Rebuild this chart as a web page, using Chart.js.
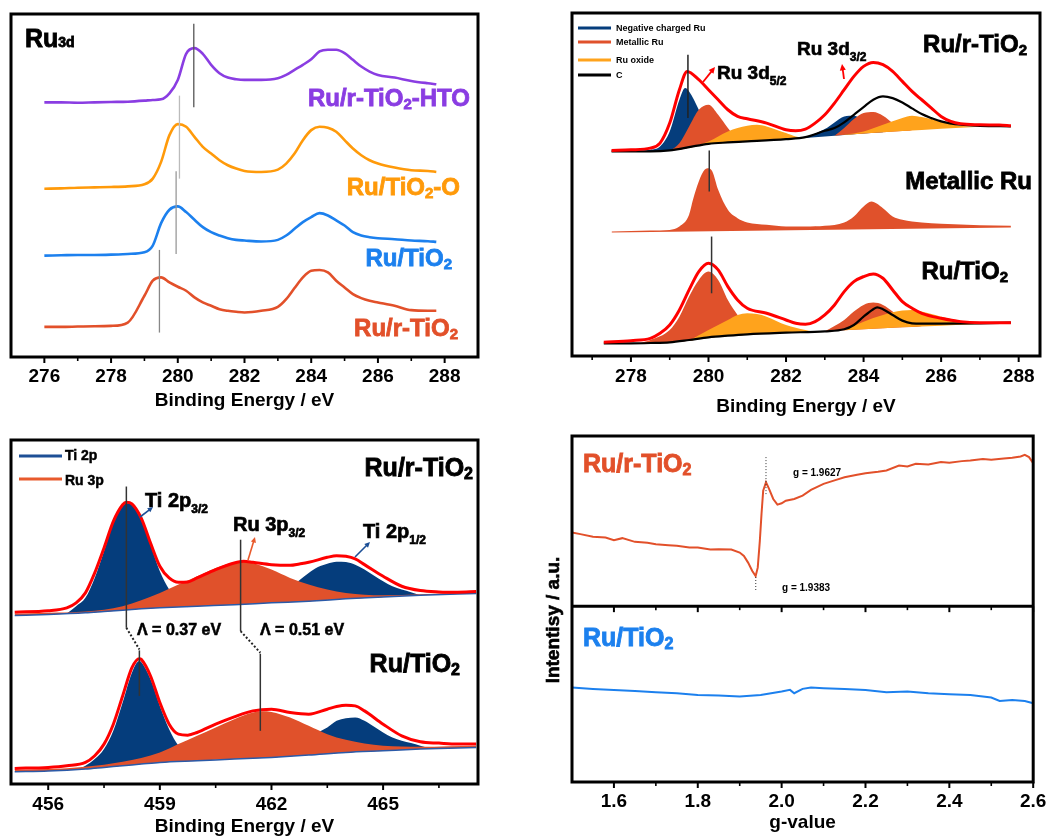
<!DOCTYPE html>
<html>
<head>
<meta charset="utf-8">
<title>Ru 3d / Ti 2p XPS and EPR</title>
<script src="https://cdn.jsdelivr.net/npm/chart.js@4.4.1/dist/chart.umd.min.js"></script>
<style>
  html, body { margin: 0; padding: 0; background: #fff; }
  #wrap { position: relative; width: 1055px; height: 839px; }
  #wrap canvas { position: absolute; left: 0; top: 0; }
</style>
</head>
<body>
<div id="wrap">
  <canvas id="ru3d" width="1055" height="839"></canvas>
  <canvas id="fit3d" width="1055" height="839"></canvas>
  <canvas id="ti2p" width="1055" height="839"></canvas>
  <canvas id="epr" width="1055" height="839"></canvas>
</div>
<script>
const FONT = '"Liberation Sans", Arial, Helvetica, sans-serif';
const PURPLE = '#8a3de2', ORANGE = '#ff9a0a', BLUE = '#1c80ee', RED = '#e2502a';
const NAVY = '#053d7c', METAL = '#e0512b', OXIDE = '#ffa31c', FIT = '#ff0000';

// ---- (a) Ru 3d survey, intensity in a.u. (stacked) ----
const ru3dEnergy = [276, 276.5, 277, 277.5, 278, 278.5, 279, 279.25, 279.5, 279.75, 280, 280.25, 280.5, 280.75, 281, 281.25, 281.5, 281.75, 282, 282.5, 283, 283.25, 283.5, 283.75, 284, 284.25, 284.5, 284.75, 285, 285.25, 285.5, 285.75, 286, 286.5, 287, 287.5, 287.75];
const ruRTiO2HTO = [761, 761, 760, 761, 762, 763, 766, 768, 770, 788, 828, 906, 923, 906, 873, 848, 835, 830, 828, 828, 833, 843, 858, 873, 890, 913, 918, 918, 908, 888, 868, 853, 843, 835, 825, 818, 815];
const ruTiO2O = [503, 504, 506, 507, 508, 510, 516, 533, 583, 663, 696, 688, 658, 628, 608, 588, 573, 563, 556, 553, 560, 578, 608, 648, 678, 688, 685, 673, 648, 623, 603, 588, 578, 566, 558, 556, 553];
const ruTiO2 = [303, 304, 305, 305, 306, 308, 313, 333, 400, 440, 450, 433, 410, 388, 373, 363, 355, 350, 348, 345, 350, 363, 383, 403, 418, 430, 423, 408, 393, 373, 363, 358, 355, 352, 348, 346, 344];
const ruRTiO2 = [90, 90, 91, 92, 93, 103, 183, 228, 238, 223, 210, 198, 178, 163, 153, 143, 138, 135, 133, 138, 150, 173, 206, 238, 258, 260, 253, 228, 208, 188, 176, 168, 163, 153, 140, 138, 138];
const ru3dTicks = [276, 278, 280, 282, 284, 286, 288];
const ru3dMinor = [277, 279, 281, 283, 285, 287];

// ---- (b) Ru 3d peak fitting ----
// Ru/r-TiO2
const bgTopE = [277.5, 278, 278.5, 279, 279.25, 279.5, 279.75, 280, 280.5, 281, 282, 283, 284, 285, 286, 287, 287.8];
const bgTopI = [613, 613, 613, 615, 618, 624, 630, 635, 639, 642, 649, 658, 667, 674, 681, 687, 689];
const negTopAE = [278.25, 278.5, 278.75, 279, 279.25, 279.4, 279.5, 279.75, 280, 280.25, 280.5];
const negTopAI = [613, 618, 628, 673, 768, 803, 793, 738, 668, 638, 639];
const negTopBE = [282.5, 283, 283.25, 283.5, 283.75, 284, 284.25, 284.5];
const negTopBI = [654, 680, 700, 718, 720, 703, 678, 671];
const metTopAE = [279, 279.25, 279.5, 279.75, 280, 280.25, 280.5, 280.75, 281];
const metTopAI = [615, 638, 688, 738, 753, 723, 683, 648, 642];
const metTopBE = [283.25, 283.5, 283.75, 284, 284.25, 284.5, 284.75, 285, 285.25];
const metTopBI = [660, 683, 710, 728, 731, 720, 698, 680, 676];
const oxTopAE = [279.5, 280, 280.5, 281, 281.25, 281.5, 282, 282.25, 282.5];
const oxTopAI = [624, 643, 673, 690, 693, 688, 668, 658, 654];
const oxTopBE = [283.5, 284, 284.5, 285, 285.25, 285.5, 286, 286.5, 287];
const oxTopBI = [663, 673, 693, 713, 720, 716, 703, 690, 687];
const cTopE = [277.5, 278, 278.5, 279, 279.5, 280, 280.5, 281, 282, 282.5, 283, 283.25, 283.5, 283.75, 284, 284.25, 284.5, 284.75, 285, 285.25, 285.5, 285.75, 286, 286.5, 287, 287.8];
const cTopI = [613, 613, 613, 616, 626, 636, 640, 643, 650, 656, 675, 683, 700, 723, 746, 768, 778, 773, 760, 742, 725, 713, 703, 693, 690, 688];
const envTopE = [277.5, 278, 278.5, 278.75, 279, 279.25, 279.45, 279.75, 280, 280.25, 280.5, 280.75, 281, 281.5, 282, 282.25, 282.5, 282.75, 283, 283.25, 283.5, 283.75, 284, 284.25, 284.5, 284.75, 285, 285.25, 285.5, 285.75, 286, 286.25, 286.5, 287, 287.5, 287.8];
const envTopI = [616, 618, 623, 638, 698, 798, 853, 828, 798, 768, 738, 718, 711, 698, 678, 675, 680, 698, 723, 758, 798, 838, 868, 880, 873, 853, 823, 793, 768, 743, 718, 703, 696, 693, 692, 690];
// Metallic Ru reference
const metRefBaseE = [277.5, 287.8];
const metRefBaseI = [370, 385];
const metRefE = [277.5, 278.5, 279, 279.25, 279.5, 279.6, 279.75, 279.9, 280, 280.1, 280.25, 280.5, 280.75, 281, 281.5, 282, 282.5, 283, 283.5, 283.75, 284, 284.2, 284.5, 284.75, 285, 285.5, 286, 287, 287.8];
const metRefI = [373, 376, 378, 388, 423, 468, 523, 558, 563, 553, 498, 438, 413, 400, 393, 388, 388, 390, 400, 418, 448, 463, 443, 418, 408, 400, 396, 392, 390];
// Ru/TiO2
const bgBotE = [277.3, 278, 279, 279.5, 280, 280.5, 281, 282, 283, 284, 285, 286, 287, 287.8];
const bgBotI = [38, 38, 41, 46, 55, 60, 64, 70, 74, 80, 86, 91, 96, 99];
const metBotAE = [278.25, 278.5, 279, 279.25, 279.5, 279.75, 280, 280.25, 280.5, 280.75, 281, 281.25];
const metBotAI = [39, 48, 78, 118, 178, 228, 253, 228, 168, 123, 83, 66];
const metBotBE = [283, 283.5, 283.75, 284, 284.25, 284.5, 284.75, 285, 285.25, 285.5];
const metBotBI = [74, 108, 133, 153, 160, 153, 133, 108, 93, 88];
const oxBotAE = [279.5, 280, 280.5, 280.75, 281, 281.25, 281.5, 282, 282.5, 282.75];
const oxBotAI = [46, 78, 108, 123, 128, 126, 118, 93, 78, 73];
const oxBotBE = [283.5, 284, 284.5, 285, 285.25, 285.5, 286, 286.5, 287, 287.5];
const oxBotBI = [78, 103, 123, 136, 138, 133, 118, 106, 100, 98];
const cBotE = [277.3, 278, 278.5, 279, 279.5, 280, 280.5, 281, 282, 283, 283.5, 283.75, 284, 284.25, 284.35, 284.5, 284.75, 285, 285.25, 285.5, 286, 287, 287.8];
const cBotI = [38, 38, 39, 41, 48, 56, 61, 65, 70, 74, 80, 93, 118, 140, 146, 140, 123, 106, 98, 97, 97, 98, 100];
const envBotE = [277.3, 278, 278.5, 278.75, 279, 279.25, 279.5, 279.75, 280, 280.25, 280.5, 280.75, 281, 281.5, 282, 282.25, 282.5, 282.75, 283, 283.25, 283.5, 283.75, 284, 284.25, 284.5, 284.75, 285, 285.25, 285.5, 286, 286.5, 287, 287.8];
const envBotI = [41, 46, 53, 68, 93, 138, 198, 253, 278, 258, 208, 168, 143, 128, 108, 98, 95, 103, 123, 153, 193, 223, 238, 246, 233, 198, 163, 143, 128, 113, 103, 100, 100];
const fitTicks = [278, 280, 282, 284, 286, 288];
const fitMinor = [277, 279, 281, 283, 285, 287];

// ---- (c) Ti 2p / Ru 3p ----
const tiBgE = [455.1, 456, 457, 457.5, 458, 458.5, 459, 460, 461, 462, 463, 464, 465, 466, 467.5];
const tiBgTopI = [507, 510, 515, 519, 523, 527, 530, 535, 539, 545, 550, 557, 563, 568, 573];
const ti32TopE = [456.5, 456.75, 457, 457.25, 457.5, 457.75, 458, 458.15, 458.25, 458.5, 458.75, 459, 459.25, 459.5, 459.75];
const ti32TopI = [513, 535, 560, 620, 700, 785, 837, 845, 840, 795, 720, 640, 585, 550, 532];
const ru3pTopE = [455.1, 456, 457, 458, 459, 459.5, 460, 460.5, 461, 461.25, 461.5, 462, 462.5, 463, 463.5, 464, 465, 466, 467.5];
const ru3pTopI = [512, 515, 519, 535, 575, 600, 625, 650, 667, 670, 665, 645, 620, 600, 585, 575, 568, 571, 578];
const ti12TopE = [461.5, 462, 462.25, 462.5, 462.75, 463, 463.25, 463.5, 463.75, 464, 464.25, 464.5, 464.75, 465, 465.25, 465.5, 465.75, 466];
const ti12TopI = [542, 555, 570, 590, 613, 635, 653, 663, 669, 668, 660, 645, 627, 610, 595, 585, 577, 568];
const tiEnvTopE = [455.1, 456, 456.5, 456.75, 457, 457.25, 457.5, 457.75, 458, 458.1, 458.25, 458.5, 458.75, 459, 459.25, 459.5, 459.75, 460, 460.5, 461, 461.25, 461.5, 462, 462.5, 462.75, 463, 463.5, 463.75, 464, 464.25, 464.5, 465, 465.5, 466, 466.5, 467, 467.5];
const tiEnvTopI = [517, 521, 530, 545, 575, 635, 710, 790, 840, 848, 843, 800, 725, 655, 620, 607, 608, 620, 645, 665, 670, 667, 660, 658, 662, 667, 682, 687, 685, 677, 660, 625, 595, 582, 578, 577, 579];
const tiBgBotI = [37, 39, 45, 50, 55, 60, 65, 70, 75, 80, 87, 95, 100, 105, 110];
const ti32BotE = [456.75, 457, 457.25, 457.5, 457.75, 458, 458.25, 458.45, 458.5, 458.75, 459, 459.25, 459.5, 459.75, 460];
const ti32BotI = [43, 55, 75, 105, 160, 245, 335, 370, 367, 315, 235, 165, 115, 85, 70];
const ru3pBotE = [455.1, 456, 457, 458, 459, 459.5, 460, 460.5, 461, 461.5, 461.75, 462, 462.5, 463, 463.5, 464, 465, 466, 467.5];
const ru3pBotI = [43, 45, 52, 67, 95, 120, 145, 170, 195, 215, 219, 217, 200, 175, 150, 133, 115, 112, 115];
const ti12BotE = [461.5, 462, 462.5, 463, 463.25, 463.5, 463.75, 464, 464.25, 464.5, 464.75, 465, 465.25, 465.5, 465.75, 466, 466.25];
const ti12BotI = [78, 95, 110, 135, 155, 170, 190, 198, 200, 190, 173, 155, 140, 130, 123, 115, 107];
const tiEnvBotE = [455.1, 456, 456.5, 457, 457.25, 457.5, 457.75, 458, 458.25, 458.45, 458.5, 458.75, 459, 459.25, 459.5, 459.75, 460, 460.5, 461, 461.5, 462, 462.5, 463, 463.5, 463.75, 464, 464.25, 464.5, 465, 465.5, 466, 466.5, 467, 467.5];
const tiEnvBotI = [47, 50, 55, 65, 85, 120, 180, 265, 350, 377, 375, 325, 245, 180, 150, 147, 155, 180, 202, 220, 225, 215, 210, 225, 233, 237, 235, 220, 180, 145, 127, 123, 120, 120];
const tiTicks = [456, 459, 462, 465];
const tiMinor = [457.5, 460.5, 463.5, 466.5];

// ---- (d) EPR ----
const eprRG = [1.5, 1.52, 1.55, 1.58, 1.6, 1.62, 1.65, 1.68, 1.7, 1.73, 1.75, 1.78, 1.8, 1.83, 1.85, 1.88, 1.9, 1.91, 1.92, 1.93, 1.938, 1.943, 1.948, 1.952, 1.956, 1.9627, 1.97, 1.98, 1.99, 2.0, 2.01, 2.03, 2.05, 2.07, 2.1, 2.13, 2.15, 2.18, 2.2, 2.23, 2.25, 2.28, 2.3, 2.32, 2.35, 2.38, 2.4, 2.43, 2.45, 2.48, 2.5, 2.53, 2.55, 2.57, 2.58, 2.59, 2.6];
const eprRI = [745, 740, 732, 730, 722, 728, 717, 714, 710, 707, 705, 700, 700, 694, 695, 694, 685, 675, 655, 630, 615, 640, 720, 800, 870, 895, 875, 845, 828, 832, 840, 845, 855, 872, 890, 902, 910, 917, 922, 926, 930, 945, 942, 950, 948, 955, 953, 958, 960, 964, 962, 966, 968, 972, 977, 970, 952];
const eprTG = [1.5, 1.55, 1.6, 1.65, 1.7, 1.75, 1.8, 1.85, 1.9, 1.95, 2.0, 2.02, 2.03, 2.05, 2.07, 2.1, 2.15, 2.2, 2.25, 2.3, 2.35, 2.4, 2.45, 2.5, 2.52, 2.55, 2.58, 2.6];
const eprTI = [282, 278, 275, 272, 268, 265, 260, 258, 255, 260, 270, 275, 265, 278, 282, 280, 278, 275, 268, 270, 265, 262, 260, 252, 242, 245, 242, 235];
const eprTicks = [1.6, 1.8, 2.0, 2.2, 2.4, 2.6];
const eprMinor = [1.7, 1.9, 2.1, 2.3, 2.5];

// ---------- helpers ----------
const pts = (xs, ys) => xs.map((x, i) => ({ x, y: ys[i] }));

function lineSet(xs, ys, color, width, order, smooth = true) {
  return { data: pts(xs, ys), borderColor: color, borderWidth: width, pointRadius: 0,
    fill: false, order, tension: smooth ? 0.4 : 0,
    cubicInterpolationMode: smooth ? 'monotone' : 'default' };
}
function areaSet(xs, ys, color, target, order) {
  return { data: pts(xs, ys), borderColor: 'rgba(0,0,0,0)', backgroundColor: color, borderWidth: 0,
    pointRadius: 0, fill: { target }, order, cubicInterpolationMode: 'monotone' };
}

function xAxis(min, max, majors, title, height, pad, fmt) {
  const font = { family: FONT, size: 19, weight: 'bold' };
  return {
    type: 'linear', min, max,
    afterBuildTicks: s => { s.ticks = majors.map(value => ({ value })); },
    afterFit: s => { s.height = height; },
    ticks: { color: '#000', padding: pad, maxRotation: 0, autoSkip: false, font,
      callback: fmt || (v => String(v)) },
    grid: { display: false, drawTicks: false },
    border: { display: false },
    title: { display: true, text: title, color: '#000', padding: 0, font }
  };
}

// bold text with "_{...}" subscripts, cy = vertical centre of capitals
function rich(ctx, text, x, cy, size, color, align = 'left', sub = {}) {
  const scale = sub.scale || 0.62, drop = sub.drop == null ? 0.12 : sub.drop;
  const segs = text.split(/(_\{[^}]*\})/).filter(Boolean).map(p =>
    p.startsWith('_{') ? { t: p.slice(2, -1), s: true } : { t: p, s: false });
  ctx.save();
  ctx.fillStyle = color; ctx.strokeStyle = color; ctx.lineWidth = size / 30;
  ctx.textAlign = 'left'; ctx.textBaseline = 'alphabetic';
  let w = 0;
  segs.forEach(s => {
    s.size = s.s ? Math.round(size * scale) : size;
    ctx.font = `bold ${s.size}px ${FONT}`;
    s.w = ctx.measureText(s.t).width; w += s.w;
  });
  let xx = align === 'right' ? x - w : align === 'center' ? x - w / 2 : x;
  const base = cy + size * 0.36;
  segs.forEach(s => {
    ctx.font = `bold ${s.size}px ${FONT}`;
    const yy = base + (s.s ? size * drop : 0);
    ctx.fillText(s.t, xx, yy);
    if (size >= 14) ctx.strokeText(s.t, xx, yy);
    xx += s.w;
  });
  ctx.restore();
}

function arrow(ctx, x1, y1, x2, y2, color, w = 1.6, head = 7) {
  const a = Math.atan2(y2 - y1, x2 - x1);
  ctx.save();
  ctx.strokeStyle = color; ctx.fillStyle = color; ctx.lineWidth = w;
  ctx.beginPath(); ctx.moveTo(x1, y1);
  ctx.lineTo(x2 - Math.cos(a) * head * 0.7, y2 - Math.sin(a) * head * 0.7); ctx.stroke();
  ctx.beginPath(); ctx.moveTo(x2, y2);
  ctx.lineTo(x2 - head * Math.cos(a - 0.45), y2 - head * Math.sin(a - 0.45));
  ctx.lineTo(x2 - head * Math.cos(a + 0.45), y2 - head * Math.sin(a + 0.45));
  ctx.closePath(); ctx.fill();
  ctx.restore();
}

// segment between two data points, drawn through the chart scales
function seg(chart, x1, y1, x2, y2, color, width, dash) {
  const { ctx, scales: { x, y } } = chart;
  ctx.save();
  ctx.strokeStyle = color; ctx.lineWidth = width;
  if (dash) ctx.setLineDash(dash);
  ctx.beginPath();
  ctx.moveTo(x.getPixelForValue(x1), y.getPixelForValue(y1));
  ctx.lineTo(x.getPixelForValue(x2), y.getPixelForValue(y2));
  ctx.stroke();
  ctx.restore();
}

function legendLine(ctx, x1, x2, y, color, w) {
  ctx.save(); ctx.strokeStyle = color; ctx.lineWidth = w;
  ctx.beginPath(); ctx.moveTo(x1, y); ctx.lineTo(x2, y); ctx.stroke(); ctx.restore();
}

const framePlugin = {
  id: 'frame',
  afterDraw(chart, args, o) {
    const { ctx, chartArea: a, scales: { x, y } } = chart;
    ctx.save();
    ctx.strokeStyle = '#000';
    const rows = [a.bottom].concat((o.dividers || []).map(v => y.getPixelForValue(v)));
    rows.forEach(py => {
      ctx.lineWidth = 2;
      (o.major || []).forEach(v => {
        const px = x.getPixelForValue(v);
        ctx.beginPath(); ctx.moveTo(px, py); ctx.lineTo(px, py + 6); ctx.stroke();
      });
      ctx.lineWidth = 1.6;
      (o.minor || []).forEach(v => {
        const px = x.getPixelForValue(v);
        ctx.beginPath(); ctx.moveTo(px, py); ctx.lineTo(px, py + 4); ctx.stroke();
      });
    });
    ctx.lineWidth = 3;
    (o.dividers || []).forEach(v => {
      const py = y.getPixelForValue(v);
      ctx.beginPath(); ctx.moveTo(a.left, py); ctx.lineTo(a.right, py); ctx.stroke();
    });
    ctx.strokeRect(a.left, a.top, a.right - a.left, a.bottom - a.top);
    ctx.restore();
  }
};

function makeChart(id, box, xScale, yMax, datasets, frame, decorate) {
  return new Chart(document.getElementById(id), {
    type: 'line',
    data: { datasets },
    options: {
      responsive: false, animation: false, events: [],
      layout: { padding: { left: box.l, top: box.t, right: 1055 - box.r, bottom: 839 - box.b - box.h } },
      scales: { x: xScale, y: { display: false, min: 0, max: yMax } },
      plugins: { legend: { display: false }, tooltip: { enabled: false }, frame }
    },
    plugins: [framePlugin, { id: 'deco', afterDatasetsDraw: decorate }]
  });
}

// ---------- (a) ----------
makeChart('ru3d', { l: 11, t: 14, r: 478, b: 357, h: 55 },
  xAxis(275, 289, ru3dTicks, 'Binding Energy / eV', 55, 8.6),
  1025,
  [
    lineSet(ru3dEnergy, ruRTiO2HTO, PURPLE, 2.6, 1),
    lineSet(ru3dEnergy, ruTiO2O, ORANGE, 2.6, 1),
    lineSet(ru3dEnergy, ruTiO2, BLUE, 2.6, 1),
    lineSet(ru3dEnergy, ruRTiO2, RED, 2.6, 1)
  ],
  { major: ru3dTicks, minor: ru3dMinor },
  chart => {
    const ctx = chart.ctx;
    seg(chart, 280.48, 746, 280.48, 996, '#555', 1.3);
    seg(chart, 280.05, 533, 280.05, 781, '#bbb', 1.3);
    seg(chart, 279.95, 308, 279.95, 555, '#999', 1.3);
    seg(chart, 279.45, 73, 279.45, 320, '#888', 1.3);
    rich(ctx, 'Ru_{3d}', 25, 38, 25, '#000', 'left', { scale: 0.55, drop: 0 });
    rich(ctx, 'Ru/r-TiO_{2}-HTO', 470, 97, 24, PURPLE, 'right');
    rich(ctx, 'Ru/TiO_{2}-O', 460, 186, 24, ORANGE, 'right');
    rich(ctx, 'Ru/TiO_{2}', 452, 257, 24, BLUE, 'right');
    rich(ctx, 'Ru/r-TiO_{2}', 458, 327, 24, RED, 'right');
  });

// ---------- (b) ----------
const fitSets = [];
const addSet = d => fitSets.push(d) - 1;
const bgTop = addSet(lineSet(bgTopE, bgTopI, 'rgba(0,0,0,0)', 0, 20));
addSet(areaSet(negTopAE, negTopAI, NAVY, bgTop, 9));
addSet(areaSet(negTopBE, negTopBI, NAVY, bgTop, 9));
addSet(areaSet(metTopAE, metTopAI, METAL, bgTop, 7));
addSet(areaSet(metTopBE, metTopBI, METAL, bgTop, 7));
addSet(areaSet(oxTopAE, oxTopAI, OXIDE, bgTop, 5));
addSet(areaSet(oxTopBE, oxTopBI, OXIDE, bgTop, 5));
addSet(lineSet(cTopE, cTopI, '#000', 2.2, 3));
addSet(lineSet(envTopE, envTopI, FIT, 3, 1));
const metBase = addSet(lineSet(metRefBaseE, metRefBaseI, 'rgba(0,0,0,0)', 0, 20, false));
addSet(areaSet(metRefE, metRefI, METAL, metBase, 7));
const bgBot = addSet(lineSet(bgBotE, bgBotI, 'rgba(0,0,0,0)', 0, 20));
addSet(areaSet(metBotAE, metBotAI, METAL, bgBot, 7));
addSet(areaSet(metBotBE, metBotBI, METAL, bgBot, 7));
addSet(areaSet(oxBotAE, oxBotAI, OXIDE, bgBot, 5));
addSet(areaSet(oxBotBE, oxBotBI, OXIDE, bgBot, 5));
addSet(lineSet(cBotE, cBotI, '#000', 2.2, 3));
addSet(lineSet(envBotE, envBotI, FIT, 3, 1));

makeChart('fit3d', { l: 572, t: 13, r: 1040, b: 356, h: 62 },
  xAxis(276.48, 288.55, fitTicks, 'Binding Energy / eV', 62, 9.6),
  1028, fitSets,
  { major: fitTicks, minor: fitMinor },
  chart => {
    const ctx = chart.ctx;
    seg(chart, 279.47, 713, 279.47, 903, '#222', 1.5);
    seg(chart, 280.02, 493, 280.02, 616, '#333', 1.5);
    seg(chart, 280.08, 188, 280.08, 358, '#333', 1.5);
    const leg = [['Negative charged Ru', NAVY, 28], ['Metallic Ru', METAL, 42], ['Ru oxide', OXIDE, 60], ['C', '#000', 75]];
    leg.forEach(([t, c, y]) => {
      legendLine(ctx, 578, 611, y, c, 3);
      rich(ctx, t, 616, y, 9, '#000', 'left');
    });
    rich(ctx, 'Ru/r-TiO_{2}', 1027, 43, 24, '#000', 'right');
    rich(ctx, 'Metallic Ru', 1032, 180, 24, '#000', 'right');
    rich(ctx, 'Ru/TiO_{2}', 1008, 270, 24, '#000', 'right');
    rich(ctx, 'Ru 3d_{5/2}', 717, 72, 19, '#000', 'left', { scale: 0.62, drop: 0.3 });
    rich(ctx, 'Ru 3d_{3/2}', 797, 48, 19, '#000', 'left', { scale: 0.62, drop: 0.3 });
    arrow(ctx, 703, 82, 715, 67, FIT, 1.8, 7);
    arrow(ctx, 844, 79, 842, 64, FIT, 1.8, 7);
  });

// ---------- (c) ----------
const tiSets = [];
const addTi = d => tiSets.push(d) - 1;
const tiBgTop = addTi(lineSet(tiBgE, tiBgTopI, '#2a5aa8', 1.5, 2));
addTi(areaSet(ti32TopE, ti32TopI, NAVY, tiBgTop, 9));
addTi(areaSet(ti12TopE, ti12TopI, NAVY, tiBgTop, 9));
addTi(areaSet(ru3pTopE, ru3pTopI, METAL, tiBgTop, 7));
addTi(lineSet(tiEnvTopE, tiEnvTopI, FIT, 3, 1));
const tiBgBot = addTi(lineSet(tiBgE, tiBgBotI, '#2a5aa8', 1.5, 2));
addTi(areaSet(ti32BotE, ti32BotI, NAVY, tiBgBot, 9));
addTi(areaSet(ti12BotE, ti12BotI, NAVY, tiBgBot, 9));
addTi(areaSet(ru3pBotE, ru3pBotI, METAL, tiBgBot, 7));
addTi(lineSet(tiEnvBotE, tiEnvBotI, FIT, 3, 1));

makeChart('ti2p', { l: 11, t: 440, r: 478, b: 784, h: 54 },
  xAxis(455, 467.55, tiTicks, 'Binding Energy / eV', 54, 9.6),
  1035, tiSets,
  { major: tiTicks, minor: tiMinor },
  chart => {
    const ctx = chart.ctx;
    seg(chart, 458.1, 470, 458.1, 895, '#333', 1.5);
    seg(chart, 458.1, 470, 458.45, 405, '#222', 2, [2, 2]);
    seg(chart, 458.45, 402, 458.45, 265, '#333', 1.5);
    seg(chart, 461.17, 460, 461.17, 735, '#333', 1.5);
    seg(chart, 461.17, 460, 461.7, 395, '#222', 2, [2, 2]);
    seg(chart, 461.7, 392, 461.7, 160, '#333', 1.5);
    legendLine(ctx, 19, 62, 456, '#1d4f96', 3);
    legendLine(ctx, 19, 62, 479, '#e85a2c', 3);
    rich(ctx, 'Ti 2p', 65, 455, 14, '#000', 'left');
    rich(ctx, 'Ru 3p', 65, 480, 14, '#000', 'left');
    rich(ctx, 'Ru/r-TiO_{2}', 473, 467, 25, '#000', 'right');
    rich(ctx, 'Ru/TiO_{2}', 460, 663, 25, '#000', 'right');
    rich(ctx, 'Ti 2p_{3/2}', 145, 500, 20, '#000', 'left', { scale: 0.62, drop: 0.3 });
    rich(ctx, 'Ru 3p_{3/2}', 233, 524, 20, '#000', 'left', { scale: 0.62, drop: 0.3 });
    rich(ctx, 'Ti 2p_{1/2}', 363, 531, 20, '#000', 'left', { scale: 0.62, drop: 0.3 });
    rich(ctx, 'Λ = 0.37 eV', 137, 629, 16, '#000', 'left');
    rich(ctx, 'Λ = 0.51 eV', 260, 629, 16, '#000', 'left');
    arrow(ctx, 140, 517, 153, 507, '#1d4f96', 1.6, 6);
    arrow(ctx, 248, 560, 255, 537, '#e85a2c', 1.6, 6);
    arrow(ctx, 355, 557, 370, 542, '#1d4f96', 1.6, 6);
  });

// ---------- (d) ----------
makeChart('epr', { l: 572, t: 436, r: 1039, b: 782, h: 52 },
  xAxis(1.5, 2.6, eprTicks, 'g-value', 52, 8.6, v => v.toFixed(1)),
  1033,
  [
    lineSet(eprRG, eprRI, RED, 2, 1, false),
    lineSet(eprTG, eprTI, BLUE, 2, 1, false)
  ],
  { major: eprTicks, minor: eprMinor, dividers: [525] },
  chart => {
    const ctx = chart.ctx;
    seg(chart, 1.9627, 970, 1.9627, 855, '#333', 1, [1, 2]);
    seg(chart, 1.9383, 612, 1.9383, 570, '#333', 1, [1, 2]);
    rich(ctx, 'g = 1.9627', 793, 472, 10, '#000', 'left');
    rich(ctx, 'g = 1.9383', 782, 587, 10, '#000', 'left');
    rich(ctx, 'Ru/r-TiO_{2}', 583, 463, 25, RED, 'left');
    rich(ctx, 'Ru/TiO_{2}', 583, 637, 25, BLUE, 'left');
    ctx.save();
    ctx.translate(552, 620);
    ctx.rotate(-Math.PI / 2);
    rich(ctx, 'Intentisy / a.u.', 0, 0, 19, '#000', 'center');
    ctx.restore();
  });
</script>
</body>
</html>
